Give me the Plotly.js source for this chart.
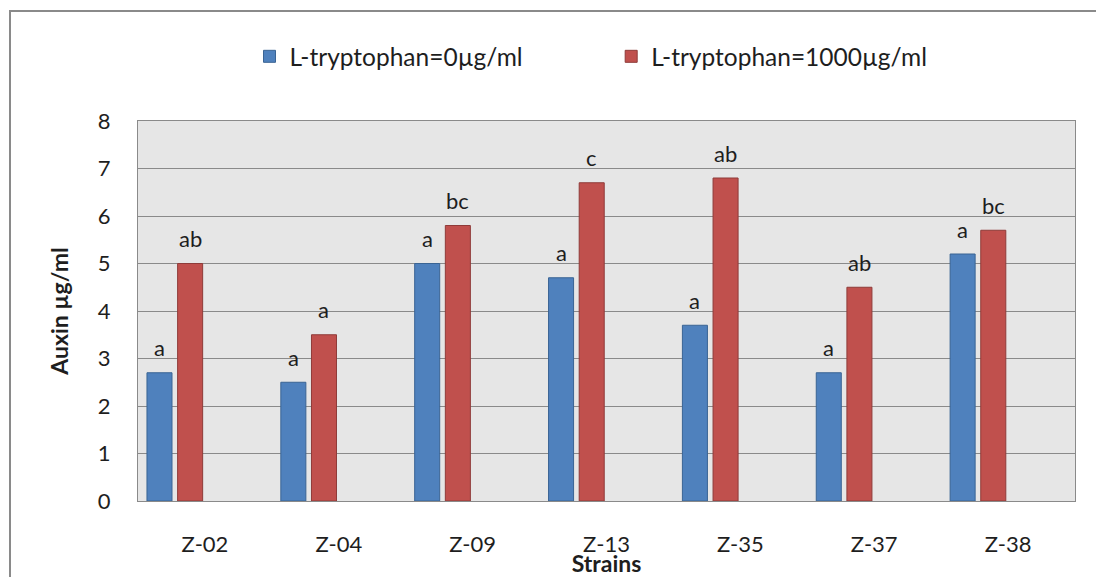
<!DOCTYPE html>
<html><head><meta charset="utf-8">
<script src="https://cdn.plot.ly/plotly-3.0.1.min.js"></script>
<style>html,body{margin:0;padding:0;background:#fff}</style>
</head><body><div id="chart" style="width:1096px;height:577px"></div>
<script>
const strains = ['Z-02','Z-04','Z-09','Z-13','Z-35','Z-37','Z-38'];
const trp0 = [2.7, 2.5, 5.0, 4.7, 3.7, 2.7, 5.2];
const trp1000 = [5.0, 3.5, 5.8, 6.7, 6.8, 4.5, 5.7];
const letters0 = ['a','a','a','a','a','a','a'];
const letters1000 = ['ab','a','bc','c','ab','ab','bc'];
const seriesNames = ['L-tryptophan=0µg/ml', 'L-tryptophan=1000µg/ml'];
const yTicks = [0,1,2,3,4,5,6,7,8];

const FONT = 'Lato, "Open Sans", sans-serif';
const TXT = '#1e1e1e';
const barW = 0.187;

const traces = [
  {type:'bar', name: seriesNames[0], x: strains, y: trp0, width: barW, offset: -0.433,
   marker:{color:'#4f81bd', line:{color:'#3a6494', width:1}}, legend:'legend', hoverinfo:'skip'},
  {type:'bar', name: seriesNames[1], x: strains, y: trp1000, width: barW, offset: -0.204,
   marker:{color:'#c0504d', line:{color:'#8f3b39', width:1}}, legend:'legend2', hoverinfo:'skip'}
];

const annotations = [];
strains.forEach((s, i) => {
  annotations.push({x: s, y: trp0[i], text: letters0[i], showarrow:false, xshift:-45.5, yshift:25,
    yanchor:'middle', font:{family:FONT, size:22, color:TXT}});
  annotations.push({x: s, y: trp1000[i], text: letters1000[i], showarrow:false, xshift:-14.8, yshift:25,
    yanchor:'middle', font:{family:FONT, size:22, color:TXT}});
});

const legendBase = {orientation:'h', xanchor:'left', yanchor:'middle', y:1.17, bgcolor:'rgba(0,0,0,0)',
  font:{family:FONT, size:24.5, color:TXT}, borderwidth:0};

const layout = {
  width:1096, height:577,
  margin:{l:138, r:21, t:121, b:76},
  paper_bgcolor:'#ffffff', plot_bgcolor:'#e6e6e6',
  barmode:'overlay',
  showlegend:true,
  legend: Object.assign({}, legendBase, {x:0.119}),
  legend2: Object.assign({}, legendBase, {x:0.505}),
  xaxis:{type:'category', range:[-0.5, 6.5], showline:true, linecolor:'#8a8a8a', linewidth:1, mirror:true,
    ticks:'outside', ticklen:24, tickcolor:'rgba(0,0,0,0)', showgrid:false,
    tickfont:{family:FONT, size:22, color:TXT},
    title:{text:'Strains', standoff:3, font:{family:FONT, size:23, color:TXT, weight:'bold'}}},
  yaxis:{range:[0,8], tickvals:yTicks, ticktext:yTicks.map(String), showline:true, linecolor:'#8a8a8a', linewidth:1, mirror:true,
    gridcolor:'#8a8a8a', gridwidth:1, zeroline:false,
    ticks:'outside', ticklen:22, tickcolor:'rgba(0,0,0,0)',
    tickfont:{family:FONT, size:22, color:TXT},
    title:{text:'Auxin µg/ml', standoff:22, font:{family:FONT, size:23, color:TXT, weight:'bold'}}},
  annotations: annotations,
  shapes:[{type:'rect', xref:'paper', yref:'paper', x0:-0.1366, x1:1.3, y0:-0.7, y1:1.2895,
    line:{color:'#8a8a8a', width:2}, fillcolor:'rgba(0,0,0,0)', layer:'below'}]
};

Plotly.newPlot('chart', traces, layout, {displayModeBar:false, staticPlot:true});
</script></body></html>
